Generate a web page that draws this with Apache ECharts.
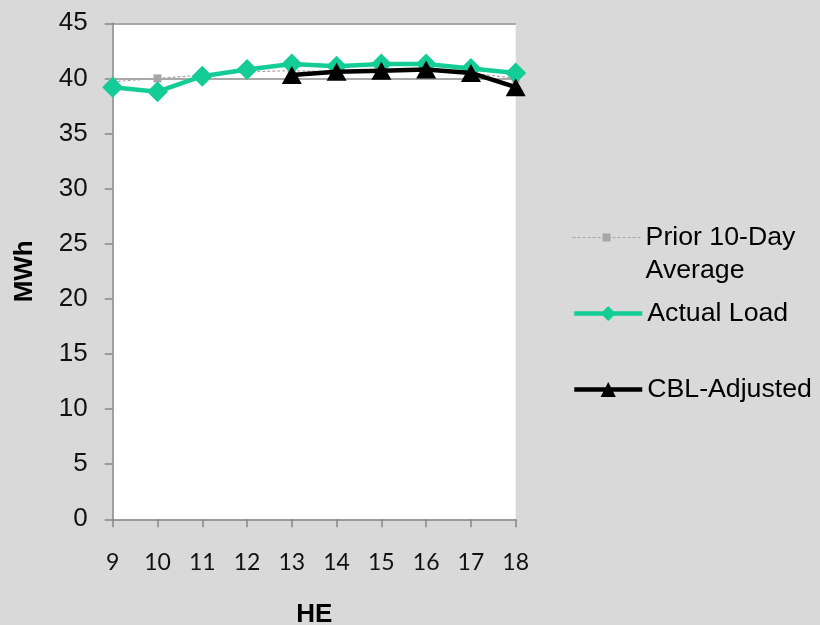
<!DOCTYPE html>
<html>
<head>
<meta charset="utf-8">
<script src="https://cdn.jsdelivr.net/npm/echarts@6/dist/echarts.min.js"></script>
<style>
html,body{margin:0;padding:0;background:#d9d9d9;}
#chart{width:820px;height:625px;}
</style>
</head>
<body>
<div id="chart"></div>
<script>
var hours = ['9','10','11','12','13','14','15','16','17','18'];
var priorAvg = [39.7, 40.0, 40.3, 40.6, 40.7, 40.6, 40.7, 40.7, 40.5, 40.0];
var actualLoad = [39.2, 38.8, 40.2, 40.8, 41.3, 41.1, 41.3, 41.3, 40.9, 40.5];
var cblAdjusted = [null, null, null, null, 40.3, 40.6, 40.7, 40.8, 40.5, 39.2];
var yTicks = {min: 0, max: 45, step: 5};

var chart = echarts.init(document.getElementById('chart'));
var legendText = {fontFamily: 'Liberation Sans', fontSize: 26.7, color: '#000'};
var option = {
  backgroundColor: '#d9d9d9',
  animation: false,
  grid: {left: 112.7, right: 304.3, top: 23.3, bottom: 105.7, show: true, backgroundColor: '#ffffff', borderWidth: 0,
         outerBoundsMode: 'none', containLabel: false},
  legend: [
    {data: ['Prior 10-Day\nAverage'], left: 572, top: 188, itemWidth: 68, itemHeight: 10, itemTextGap: 13, padding: 0,
     lineStyle: {width: 1.2}, formatter: function (n) { return ' \n' + n; },
     textStyle: Object.assign({lineHeight: 33}, legendText)},
    {data: ['Actual Load'], left: 572, top: 300, itemWidth: 68, itemHeight: 19, itemTextGap: 12, padding: 0,
     lineStyle: {width: 4.5}, textStyle: legendText},
    {data: ['CBL-Adjusted'], left: 572, top: 376, itemWidth: 68, itemHeight: 19, itemTextGap: 12, padding: 0,
     lineStyle: {width: 4.5}, textStyle: legendText}
  ],
  xAxis: {
    type: 'category', data: hours, boundaryGap: false,
    name: 'HE', nameLocation: 'middle', nameGap: 83,
    nameTextStyle: {fontFamily: 'Liberation Sans', fontWeight: 'bold', fontSize: 26, color: '#000'},
    axisLine: {lineStyle: {color: '#868686', width: 1.5}},
    axisTick: {show: true, length: 8, alignWithLabel: true, lineStyle: {color: '#868686', width: 1.5}},
    axisLabel: {margin: 32, fontFamily: 'Lato', fontSize: 23, color: '#111'},
    splitLine: {show: false}
  },
  yAxis: {
    type: 'value', min: yTicks.min, max: yTicks.max, interval: yTicks.step,
    name: 'MWh', nameLocation: 'middle', nameRotate: 90, nameGap: 75,
    nameTextStyle: {fontFamily: 'Liberation Sans', fontWeight: 'bold', fontSize: 26, color: '#000'},
    axisLine: {show: true, lineStyle: {color: '#868686', width: 1.5}},
    axisTick: {show: true, length: 8, lineStyle: {color: '#868686', width: 1.5}},
    axisLabel: {margin: 25, fontFamily: 'Liberation Sans', fontSize: 26, color: '#111'},
    splitLine: {show: true, lineStyle: {width: 1.5, color: ['rgba(0,0,0,0)','rgba(0,0,0,0)','rgba(0,0,0,0)','rgba(0,0,0,0)','rgba(0,0,0,0)','rgba(0,0,0,0)','rgba(0,0,0,0)','rgba(0,0,0,0)','#8c8c8c','#8c8c8c']}}
  },
  series: [
    {name: 'Prior 10-Day\nAverage', type: 'line', data: priorAvg, symbol: 'rect', symbolSize: 8,
     itemStyle: {color: '#a6a6a6'}, lineStyle: {color: '#a6a6a6', width: 1.2, type: [3, 2]}, z: 2},
    {name: 'Actual Load', type: 'line', data: actualLoad, symbol: 'diamond', symbolSize: 21,
     itemStyle: {color: '#14cc96'}, lineStyle: {color: '#14cc96', width: 4.5}, z: 3},
    {name: 'CBL-Adjusted', type: 'line', data: cblAdjusted, symbol: 'triangle', symbolSize: [20, 18],
     itemStyle: {color: '#000'}, lineStyle: {color: '#000', width: 4.5}, z: 4}
  ]
};
chart.setOption(option);
</script>
</body>
</html>
